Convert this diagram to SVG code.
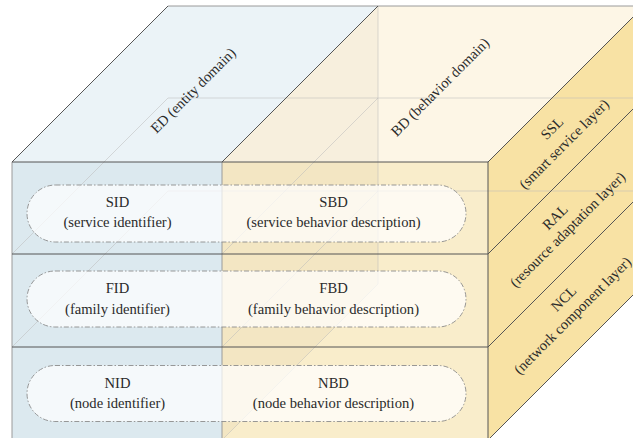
<svg xmlns="http://www.w3.org/2000/svg" width="633" height="438" viewBox="0 0 633 438">
  <style>
    text { font-family: "Liberation Serif", "Times New Roman", serif; font-size: 14.6px; fill: #2a2a2a; text-anchor: middle; }
    .edge { fill: none; stroke: #555; stroke-width: 1; }
    .soft { fill: none; stroke: #9a9a9a; stroke-width: 1; }
    .hidden { fill: none; stroke: #b9b9b9; stroke-opacity: 0.5; stroke-width: 1; }
    .pill { fill: #ffffff; fill-opacity: 0.72; stroke: #8c8c8c; stroke-width: 0.9; stroke-dasharray: 5 2 1.5 2; }
  </style>

  <rect width="633" height="438" fill="#ffffff"/>

  <!-- cube faces: top, front and right, split into entity / behavior domains -->
  <g id="cube">
    <polygon id="top-ed" points="12,162 168,6 378,6 222,162" fill="#ebf3f7"/>
    <polygon id="top-bd" points="222,162 378,6 644,6 488,162" fill="#fdf6e6"/>
    <polygon id="front-ed" points="12,162 222,162 222,440 12,440" fill="#dce9ef"/>
    <polygon id="front-bd" points="222,162 488,162 488,440 222,440" fill="#f9edcb"/>
    <polygon id="right-face" points="488,162 644,6 644,284 488,440" fill="#f8e2a4"/>
    <!-- internal ED/BD partition plane, showing through the translucent faces -->
    <polygon id="partition" points="222,162 378,6 378,284 222,440" fill="#8c7a3c" fill-opacity="0.05"/>
  </g>

  <!-- cube edges -->
  <g id="edges">
    <g class="hidden">
      <path d="M168,98 H644 M12,254 L168,98"/>
      <path d="M168,191 H644 M12,347 L168,191"/>
      <path d="M378,6 V284 M222,254 L378,98 M222,347 L378,191 M222,440 L378,284"/>
    </g>
    <path class="soft" d="M168,6 H644"/>
    <path class="soft" d="M12,162 V440 M222,162 V440"/>
    <path class="edge" d="M12,162 L168,6 M222,162 L378,6 M488,162 L644,6"/>
    <path class="edge" d="M12,162 H488 M12,254 H488 M12,347 H488 M488,162 V440"/>
    <path class="edge" d="M488,254 L644,98 M488,347 L644,191 M488,440 L644,284"/>
  </g>

  <!-- domain labels on the top face -->
  <g id="ed-label">
    <text transform="translate(196.5,94) rotate(-45)">ED (entity domain)</text>
  </g>
  <g id="bd-label">
    <text transform="translate(443.5,90.5) rotate(-45)">BD (behavior domain)</text>
  </g>

  <!-- layer labels on the right face -->
  <g id="ssl-label">
    <text transform="translate(555.5,131.5) rotate(-45)">SSL</text>
    <text transform="translate(567.5,147.5) rotate(-45)">(smart service layer)</text>
  </g>
  <g id="ral-label">
    <text transform="translate(558.5,220.5) rotate(-45)">RAL</text>
    <text transform="translate(571,233) rotate(-45)">(resource adaptation layer)</text>
  </g>
  <g id="ncl-label">
    <text transform="translate(567,302) rotate(-45)">NCL</text>
    <text transform="translate(576,319) rotate(-45)">(network component layer)</text>
  </g>

  <!-- service layer pair -->
  <g id="service-pair">
    <rect class="pill" x="27" y="185" width="439" height="57" rx="28.5"/>
    <g id="sid">
      <text x="117.5" y="207.3">SID</text>
      <text x="117.5" y="227">(service identifier)</text>
    </g>
    <g id="sbd">
      <text x="333.5" y="207.3">SBD</text>
      <text x="333.5" y="227">(service behavior description)</text>
    </g>
  </g>

  <!-- family layer pair -->
  <g id="family-pair">
    <rect class="pill" x="27" y="271" width="439" height="56" rx="28"/>
    <g id="fid">
      <text x="117.5" y="293.3">FID</text>
      <text x="117.5" y="313.5">(family identifier)</text>
    </g>
    <g id="fbd">
      <text x="333.5" y="293.3">FBD</text>
      <text x="333.5" y="313.5">(family behavior description)</text>
    </g>
  </g>

  <!-- node layer pair -->
  <g id="node-pair">
    <rect class="pill" x="27" y="365.5" width="439" height="56" rx="28"/>
    <g id="nid">
      <text x="117.5" y="388.3">NID</text>
      <text x="117.5" y="407.5">(node identifier)</text>
    </g>
    <g id="nbd">
      <text x="333.5" y="388.3">NBD</text>
      <text x="333.5" y="407.5">(node behavior description)</text>
    </g>
  </g>
</svg>
